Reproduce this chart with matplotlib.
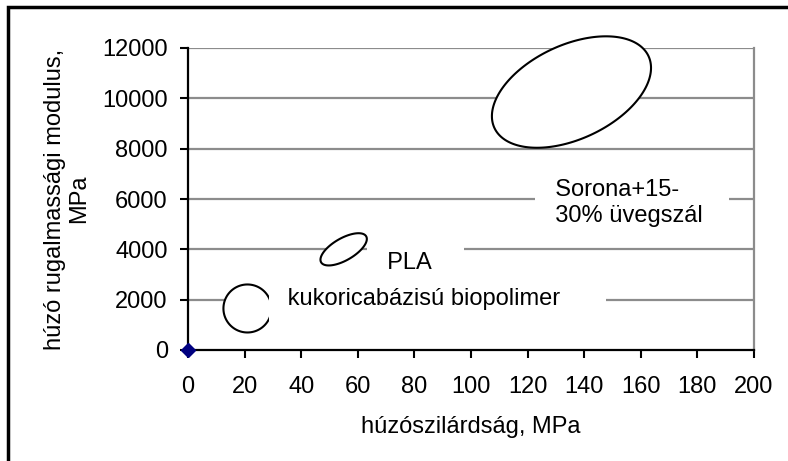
import numpy as np
import matplotlib.pyplot as plt
from matplotlib.patches import Polygon, Rectangle

plt.rcParams['font.family'] = ['Liberation Sans', 'DejaVu Sans']

# axis data
x_ticks = [0, 20, 40, 60, 80, 100, 120, 140, 160, 180, 200]
y_ticks = [0, 2000, 4000, 6000, 8000, 10000, 12000]

# the single plotted point
point_x = [0]
point_y = [0]

# material regions: centre (data), size in pixels, tilt in degrees
region_cx = [21, 55, 135.5]
region_cy = [1650, 4000, 10250]
region_w = [48, 52, 170]
region_h = [48, 22, 94]
region_angle = [0, 30, 25]

fs = 17

fig = plt.figure(figsize=(7.88, 4.61), dpi=100)
ax = fig.add_axes([188 / 788, 1 - 350 / 461, 566 / 788, 302 / 461])

ax.set_xlim(0, 200)
ax.set_ylim(0, 12000)
ax.set_xticks(x_ticks)
ax.set_yticks(y_ticks)
ax.tick_params(labelsize=fs, direction='out', length=5.5, width=1.5, color='black')
ax.tick_params(axis='x', pad=13.5)
ax.tick_params(axis='y', pad=9)

for y in y_ticks[1:]:
    ax.axhline(y, color='#8c8c8c', lw=1.6, zorder=1)

ax.spines['top'].set_visible(False)
ax.spines['right'].set_color('#8c8c8c')
ax.spines['right'].set_linewidth(1.6)
ax.spines['left'].set_linewidth(1.6)
ax.spines['bottom'].set_linewidth(1.6)
ax.spines['left'].set_zorder(5)
ax.spines['bottom'].set_zorder(5)

# pixels per data unit
sx = 566 / 200
sy = 302 / 12000
t = np.linspace(0, 2 * np.pi, 200)
for cx, cy, w, h, ang in zip(region_cx, region_cy, region_w, region_h, region_angle):
    a = np.radians(ang)
    u = w / 2 * np.cos(t)
    v = h / 2 * np.sin(t)
    px = u * np.cos(a) - v * np.sin(a)
    py = u * np.sin(a) + v * np.cos(a)
    pts = np.column_stack([cx + px / sx, cy + py / sy])
    ax.add_patch(Polygon(pts, closed=True, facecolor='white', edgecolor='black', lw=1.5,
                         zorder=3, clip_on=False))

# labels with white boxes (spaces widen the boxes like in the original)
ax.text(65.7, 3460, '  PLA    ', fontsize=fs, ha='left', va='center', zorder=4,
        bbox=dict(facecolor='white', edgecolor='none', pad=5))
ax.text(33.0, 2030, ' kukoricabázisú biopolimer     ', fontsize=fs, ha='left', va='center', zorder=4,
        bbox=dict(facecolor='white', edgecolor='none', pad=9))
ax.text(125.0, 5850, '  Sorona+15-\n  30% üvegszál   ', fontsize=fs, ha='left', va='center', zorder=4,
        linespacing=1.25, bbox=dict(facecolor='white', edgecolor='none', pad=5))

ax.plot(point_x, point_y, marker='D', color='#000080', markersize=7, ls='none', zorder=6, clip_on=False)

ax.set_xlabel('húzószilárdság, MPa', fontsize=fs, labelpad=12.5)
ax.set_ylabel('húzó rugalmassági modulus,\nMPa', fontsize=fs, labelpad=8.5, linespacing=1.15)

# outer chart border (left and top visible)
fig.add_artist(Rectangle((8 / 788, -0.1), 1.2, 1 - 7 / 461 + 0.1, transform=fig.transFigure,
                         fill=False, edgecolor='black', lw=2.5))

fig.savefig('out.png', dpi=100)
